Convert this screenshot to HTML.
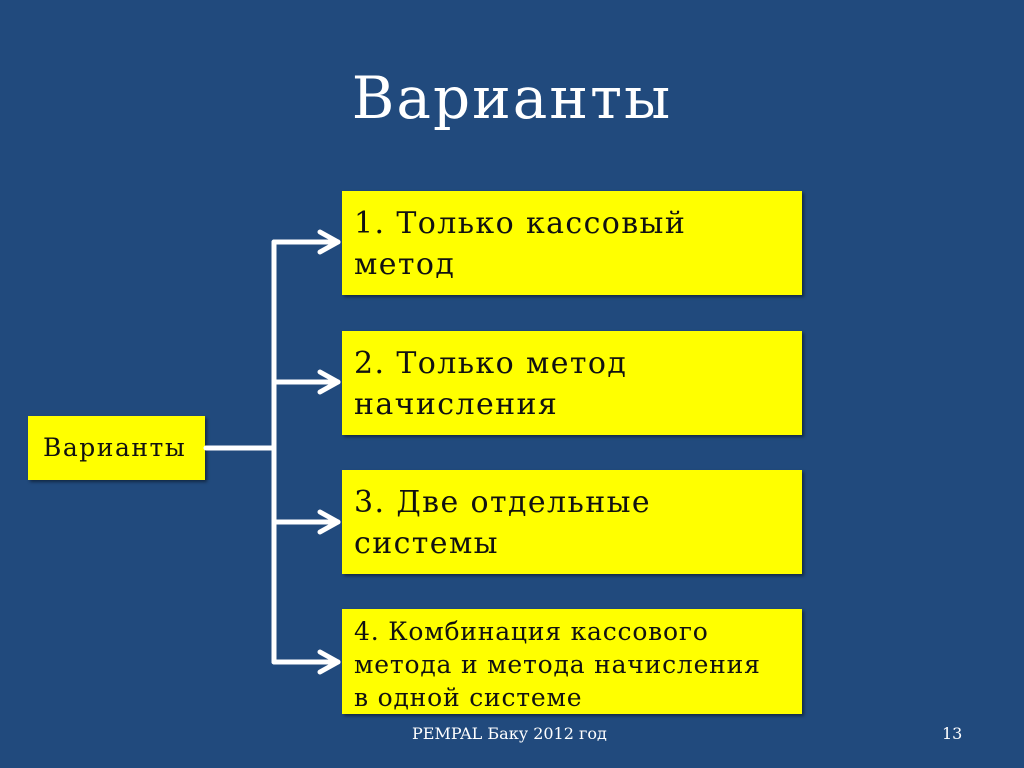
<!DOCTYPE html>
<html><head><meta charset="utf-8"><style>
body{margin:0;width:1024px;height:768px;background:#214a7d;position:relative;overflow:hidden;font-family:"DejaVu Serif","Liberation Serif",serif;}
.t{position:absolute;left:0;width:1024px;top:64px;text-align:center;color:#fff;font-size:58px;letter-spacing:2px;}
.b{position:absolute;background:#ffff00;box-shadow:2px 2px 3px rgba(0,0,0,.45);color:#111;box-sizing:border-box;white-space:nowrap;}
.r{left:342px;width:460px;height:104px;padding:12px 12px;font-size:30px;line-height:41px;letter-spacing:1.4px;}
.f{position:absolute;color:#fff;font-size:16px;top:724px;}
</style></head><body>
<div class="t">Варианты</div>
<div class="b" style="left:28px;top:416px;width:177px;height:64px;font-size:25px;line-height:64px;padding-left:15px;letter-spacing:1.5px;">Варианты</div>
<div class="b r" style="top:191px;">1. Только кассовый<br>метод</div>
<div class="b r" style="top:331px;">2. Только метод<br>начисления</div>
<div class="b r" style="top:470px;">3. Две отдельные<br>системы</div>
<div class="b r" style="top:609px;height:105px;font-size:25px;line-height:33px;padding-top:6px;letter-spacing:0.8px;">4. Комбинация кассового<br>метода и метода начисления<br>в одной системе</div>
<svg style="position:absolute;left:0;top:0" width="1024" height="768">
<g stroke="#fff" stroke-width="5" fill="none" stroke-linecap="round" stroke-linejoin="round">
<path d="M206 448H274M274 242V662"/>
<path d="M274 242H338M274 382H338M274 522H338M274 662H338"/>
<path d="M320 232L338 242L320 252M320 372L338 382L320 392M320 512L338 522L320 532M320 652L338 662L320 672"/>
</g></svg>
<div class="f" style="left:412px;">PEMPAL Баку 2012 год</div>
<div class="f" style="left:942px;">13</div>
</body></html>
